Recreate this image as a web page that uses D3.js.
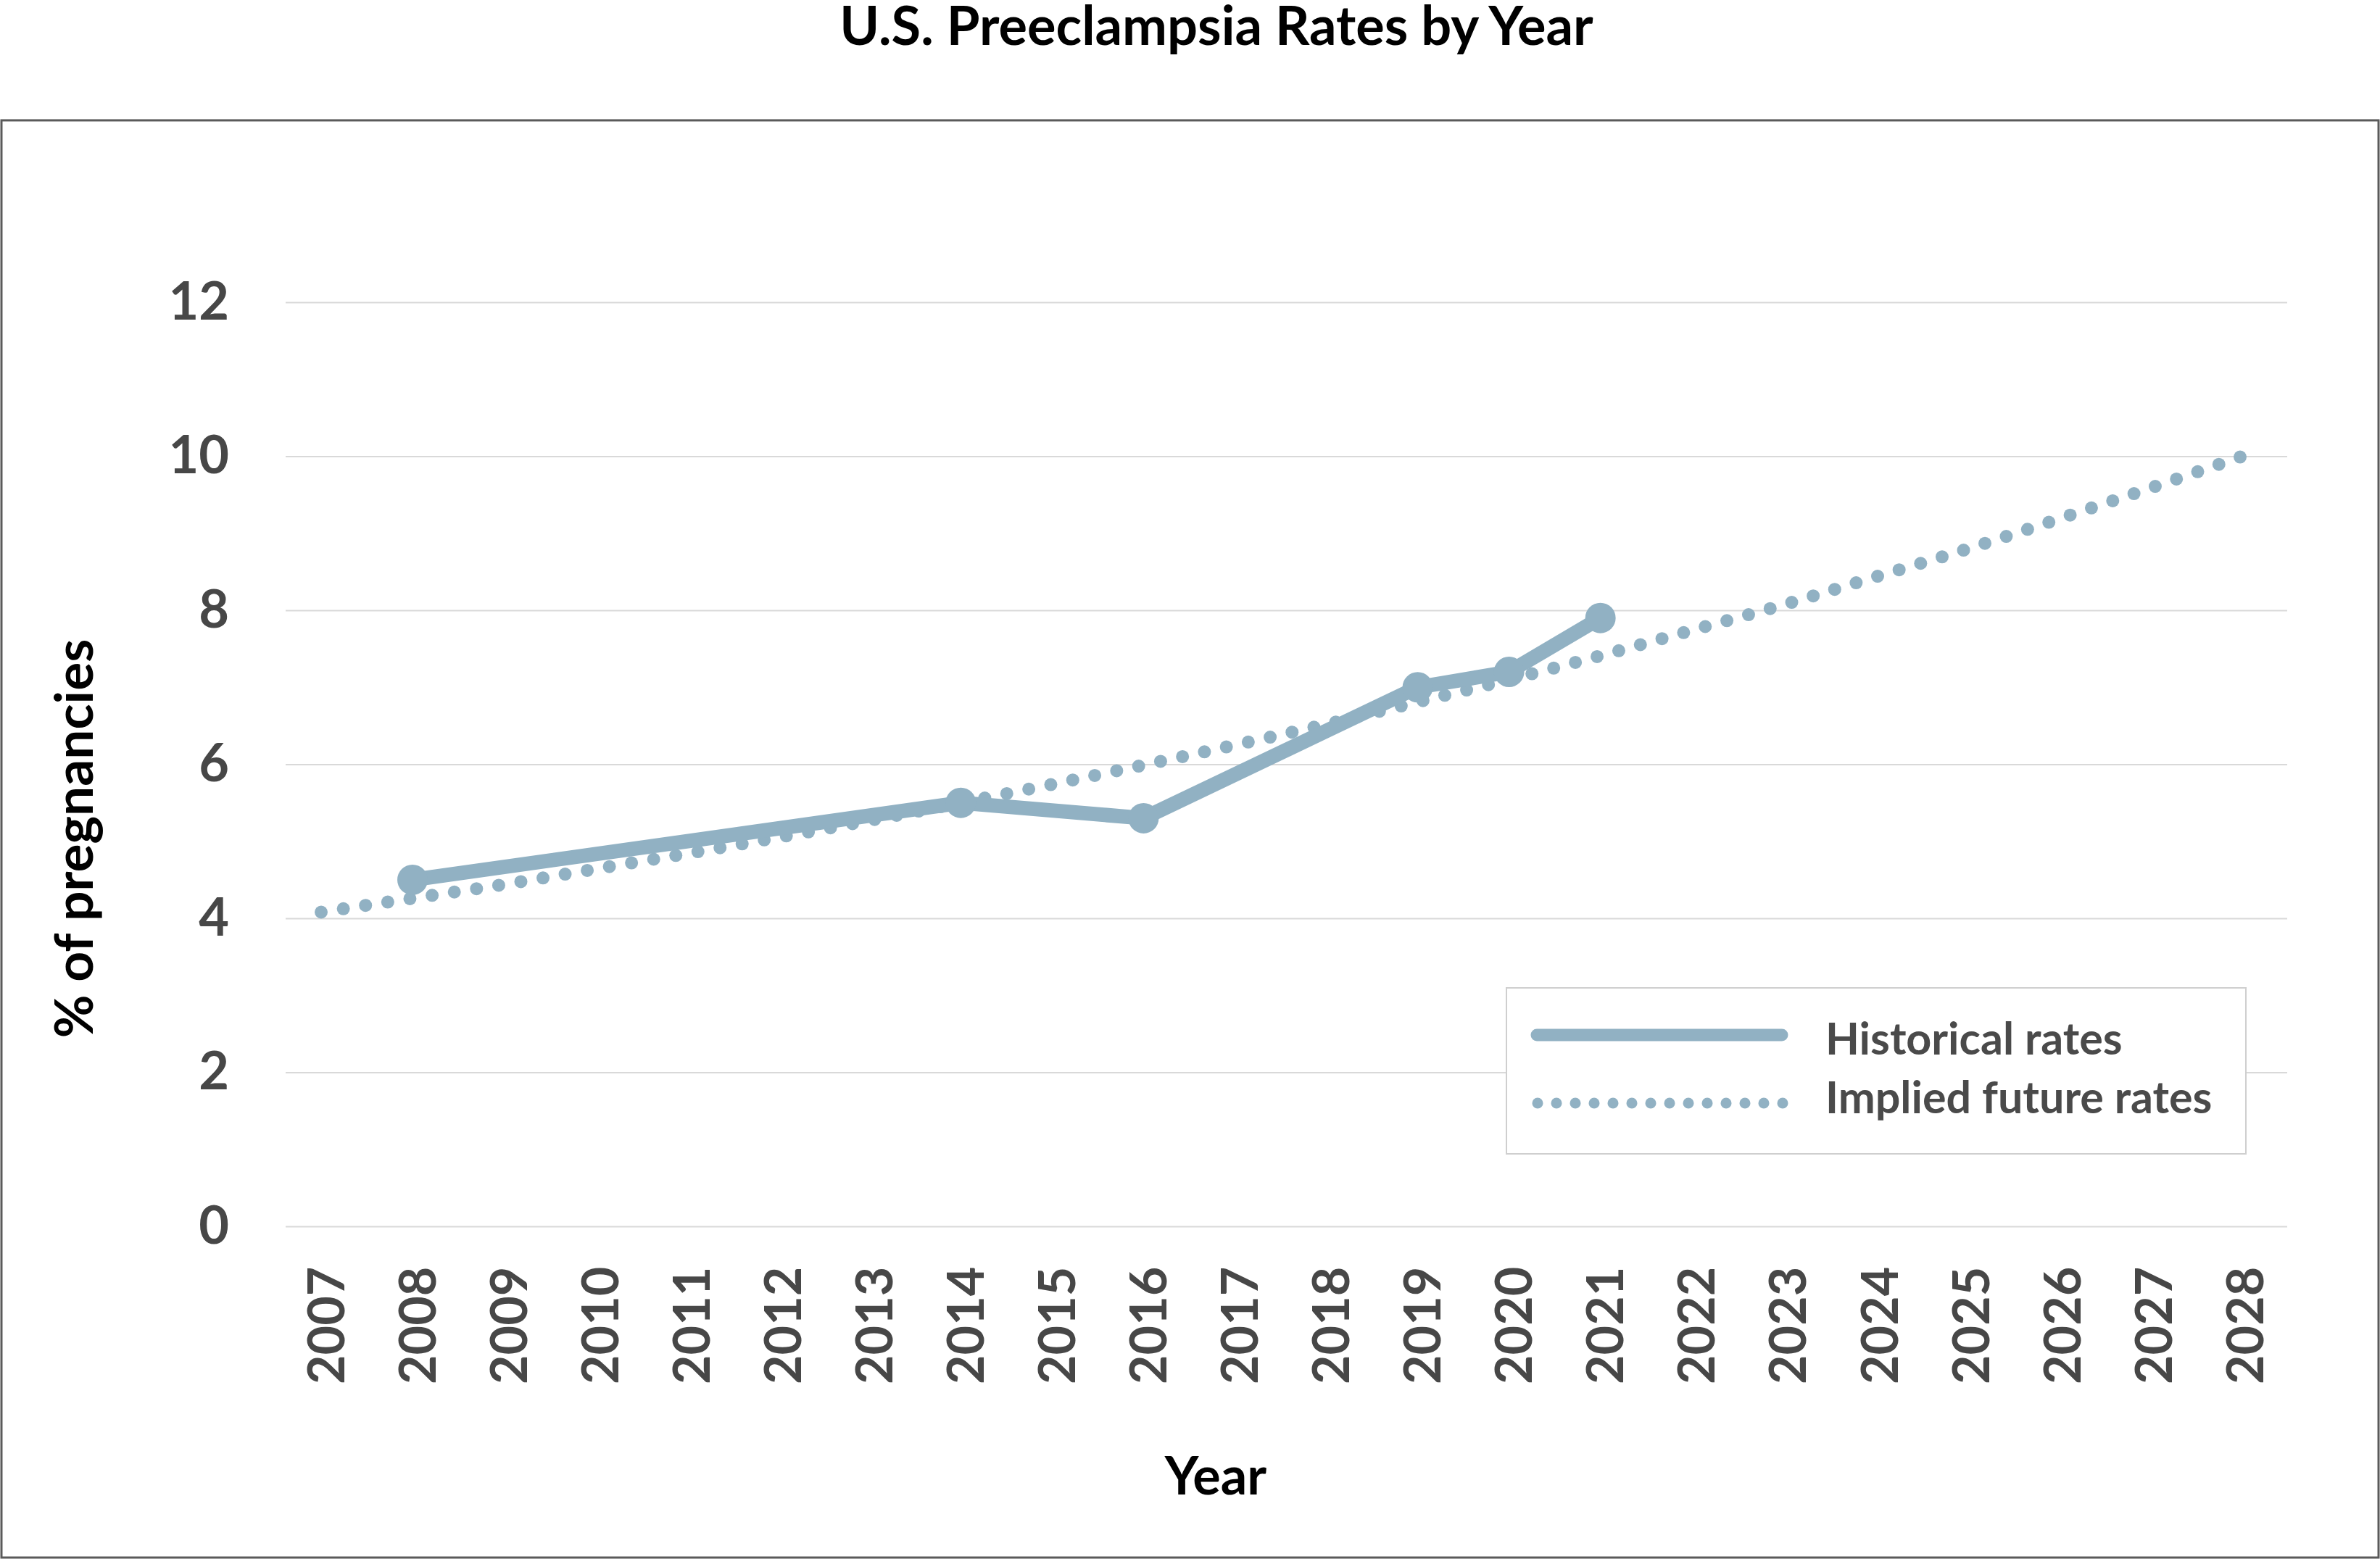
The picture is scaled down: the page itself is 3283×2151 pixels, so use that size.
<!DOCTYPE html>
<html>
<head>
<meta charset="utf-8">
<script src="https://cdn.jsdelivr.net/npm/d3@7"></script>
<style>
  body { margin: 0; background: #fff; }
  text { font-family: Lato, "Open Sans", sans-serif; }
</style>
</head>
<body>
<script>
var WIDTH = 3283,
    HEIGHT = 2151,
    LINE_COLOR = '#91b1c3';

// chart data
var years = [2007, 2008, 2009, 2010, 2011, 2012, 2013, 2014, 2015, 2016, 2017,
             2018, 2019, 2020, 2021, 2022, 2023, 2024, 2025, 2026, 2027, 2028];
var histYears = [2008, 2014, 2016, 2019, 2020, 2021];
var histRates = [4.5, 5.5, 5.3, 7.0, 7.2, 7.9];
var trendRates = [4.08, 4.26, 4.44, 4.64, 4.84, 5.05, 5.27, 5.50, 5.74, 5.99, 6.25,
                  6.52, 6.81, 7.10, 7.41, 7.74, 8.07, 8.43, 8.79, 9.18, 9.58, 9.99];
var yTicks = [0, 2, 4, 6, 8, 10, 12];
var legendLabels = ['Historical rates', 'Implied future rates'];

document.addEventListener('DOMContentLoaded', function() {
    var svg = d3.select('body').append('svg')
        .attr('width', WIDTH)
        .attr('height', HEIGHT);

    drawChart(svg);
});

// round dots along a path, evenly spread so first and last sit on the ends
function dotsAlong(g, path, step, r) {
    var node = path.node();
    var len = node.getTotalLength();
    var n = Math.max(1, Math.round(len / step));
    var pts = d3.range(n + 1).map(i => node.getPointAtLength(len * i / n));

    g.selectAll(null)
        .data(pts)
        .enter()
        .append('circle')
        .attr('cx', p => p.x)
        .attr('cy', p => p.y)
        .attr('r', r)
        .attr('fill', LINE_COLOR);
}

function drawChart(svg) {
    var x = d3.scalePoint()
        .domain(years)
        .range([443, 3090]);

    var y = d3.scaleLinear()
        .domain([0, 12])
        .range([1692, 417]);

    // frame round the plot
    svg.append('rect')
        .attr('x', 2).attr('y', 166)
        .attr('width', WIDTH - 4).attr('height', HEIGHT - 168)
        .attr('fill', 'none')
        .attr('stroke', '#5a5a5a')
        .attr('stroke-width', 3);

    svg.append('text')
        .attr('x', 1678).attr('y', 62)
        .attr('text-anchor', 'middle')
        .attr('font-size', 74)
        .attr('font-weight', 'bold')
        .attr('fill', '#000')
        .text('U.S. Preeclampsia Rates by Year');

    // gridlines + y labels
    var yAxis = d3.axisLeft(y)
        .tickValues(yTicks)
        .tickSize(-(3155 - 394))
        .tickPadding(394 - 316);

    var gy = svg.append('g')
        .attr('transform', 'translate(394,0)')
        .call(yAxis);
    gy.select('.domain').remove();
    gy.selectAll('line')
        .attr('stroke', '#d9d9d9')
        .attr('stroke-width', 2);
    gy.selectAll('text')
        .attr('font-size', 72)
        .attr('font-weight', 'bold')
        .attr('fill', '#474747')
        .attr('font-family', 'Lato, sans-serif');

    // x labels, rotated
    var xAxis = d3.axisBottom(x).tickSize(0);
    var gx = svg.append('g')
        .attr('transform', 'translate(0,1692)')
        .call(xAxis);
    gx.select('.domain').remove();
    gx.selectAll('text')
        .attr('transform', 'translate(6,218) rotate(-90)')
        .attr('x', 0).attr('y', 0)
        .attr('dy', '0.36em')
        .attr('text-anchor', 'start')
        .attr('font-size', 70)
        .attr('font-weight', 'bold')
        .attr('fill', '#474747')
        .attr('font-family', 'Lato, sans-serif');

    svg.append('text')
        .attr('transform', 'translate(128,1157) rotate(-90)')
        .attr('text-anchor', 'middle')
        .attr('font-size', 73)
        .attr('font-weight', 'bold')
        .attr('fill', '#000')
        .text('% of pregnancies');

    svg.append('text')
        .attr('x', 1677).attr('y', 2062)
        .attr('text-anchor', 'middle')
        .attr('font-size', 72)
        .attr('font-weight', 'bold')
        .attr('fill', '#000')
        .text('Year');

    // trend line (dotted): invisible guide path, dots placed on it
    var trendLine = d3.line()
        .x((d, i) => x(years[i]))
        .y(d => y(d))
        .curve(d3.curveMonotoneX);

    var trend = svg.append('path')
        .datum(trendRates)
        .attr('d', trendLine)
        .attr('fill', 'none')
        .attr('stroke', 'none');
    dotsAlong(svg.append('g'), trend, 31, 9);

    // historical line
    var histLine = d3.line()
        .x((d, i) => x(histYears[i]))
        .y(d => y(d));

    svg.append('path')
        .datum(histRates)
        .attr('d', histLine)
        .attr('fill', 'none')
        .attr('stroke', LINE_COLOR)
        .attr('stroke-width', 20)
        .attr('stroke-linejoin', 'round');

    svg.selectAll('circle.mark')
        .data(histRates)
        .enter()
        .append('circle')
        .attr('class', 'mark')
        .attr('cx', (d, i) => x(histYears[i]))
        .attr('cy', d => y(d))
        .attr('r', 21)
        .attr('fill', LINE_COLOR);

    drawLegend(svg);
}

function drawLegend(svg) {
    var lg = svg.append('g');

    lg.append('rect')
        .attr('x', 2078).attr('y', 1363)
        .attr('width', 1020).attr('height', 229)
        .attr('fill', '#fff')
        .attr('stroke', '#cfcfcf')
        .attr('stroke-width', 2);

    lg.append('line')
        .attr('x1', 2120).attr('x2', 2458)
        .attr('y1', 1428).attr('y2', 1428)
        .attr('stroke', LINE_COLOR)
        .attr('stroke-width', 17)
        .attr('stroke-linecap', 'round');

    var guide = lg.append('path')
        .attr('d', 'M2121,1522H2459')
        .attr('stroke', 'none');
    dotsAlong(lg.append('g'), guide, 26, 7.5);

    lg.selectAll('text.lbl')
        .data(legendLabels)
        .enter()
        .append('text')
        .attr('class', 'lbl')
        .attr('x', 2518)
        .attr('y', (d, i) => i ? 1536 : 1455)
        .attr('font-size', 61)
        .attr('font-weight', 'bold')
        .attr('fill', '#4a4a4a')
        .text(d => d);
}
</script>
</body>
</html>
